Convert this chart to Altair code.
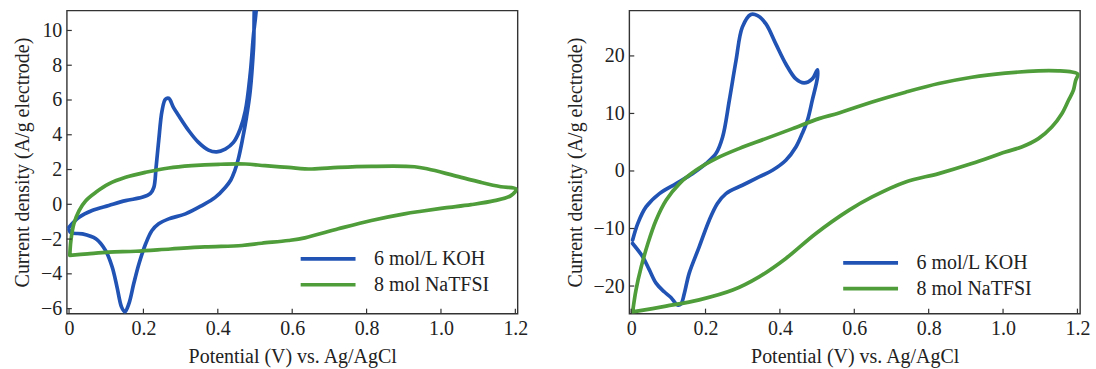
import altair as alt
import pandas as pd

FONT = "Liberation Serif, Times New Roman, serif"
SERIES = ["6 mol/L KOH", "8 mol NaTFSI"]
COLORS = ["#2153b4", "#4f9d3a"]

X_TICKS = [0.0, 0.2, 0.4, 0.6, 0.8, 1.0, 1.2]
L_Y_TICKS = [-6, -4, -2, 0, 2, 4, 6, 8, 10]
R_Y_TICKS = [-20, -10, 0, 10, 20]

# Left panel: 6 mol/L KOH
L_KOH_X = [0.0, 0.027, 0.062, 0.107, 0.152, 0.196, 0.219, 0.228, 0.234, 0.241, 0.250, 0.259, 0.268,
           0.281, 0.295, 0.322, 0.348, 0.375, 0.397, 0.42, 0.442, 0.46, 0.474, 0.487, 0.496, 0.502,
           0.507, 0.503, 0.496, 0.487, 0.477, 0.466, 0.455, 0.445, 0.435, 0.42, 0.393, 0.357, 0.313,
           0.268, 0.241, 0.223, 0.206, 0.188, 0.174, 0.161, 0.150, 0.141, 0.129, 0.116, 0.098, 0.072,
           0.036, 0.005, 0.0]
L_KOH_Y = [-1.32, -0.75, -0.36, -0.07, 0.21, 0.40, 0.63, 0.97, 2.12, 3.65, 5.37, 6.04, 6.1,
           5.56, 5.09, 4.23, 3.56, 3.12, 3.02, 3.18, 3.56, 4.32, 5.37, 7.48, 9.77, 10.9,
           12.5, 12.5, 9.0, 6.5, 5.0, 3.7, 2.6, 1.9, 1.4, 0.97, 0.40, -0.07, -0.55,
           -0.84, -1.12, -1.51, -2.27, -3.42, -4.56, -5.71, -6.19, -5.9, -4.76, -3.61, -2.65, -1.98,
           -1.70, -1.64, -1.45]

# Left panel: 8 mol NaTFSI
L_NA_X = [0.002, 0.005, 0.013, 0.027, 0.045, 0.072, 0.107, 0.152, 0.206, 0.268, 0.33, 0.402, 0.474,
          0.527, 0.59, 0.652, 0.724, 0.813, 0.929, 0.965, 1.036, 1.108, 1.161, 1.202, 1.188, 1.144,
          1.081, 1.01, 0.947, 0.902, 0.813, 0.724, 0.634, 0.59, 0.518, 0.465, 0.365, 0.273, 0.18,
          0.107, 0.05, 0.002]
L_NA_Y = [-2.94, -2.08, -1.12, -0.36, 0.21, 0.69, 1.17, 1.55, 1.84, 2.09, 2.22, 2.30, 2.32,
          2.22, 2.12, 2.03, 2.12, 2.18, 2.16, 2.03, 1.65, 1.26, 1.01, 0.88, 0.5, 0.21,
          -0.02, -0.21, -0.40, -0.55, -0.93, -1.41, -1.93, -2.08, -2.24, -2.37, -2.45, -2.57, -2.7,
          -2.75, -2.85, -2.94]

# Right panel: 6 mol/L KOH
R_KOH_X = [0.004, 0.018, 0.04, 0.076, 0.121, 0.165, 0.201, 0.228, 0.246, 0.264, 0.282, 0.299, 0.322,
           0.34, 0.362, 0.389, 0.416, 0.443, 0.465, 0.487, 0.501, 0.501, 0.487, 0.474, 0.46, 0.443,
           0.416, 0.38, 0.344, 0.299, 0.255, 0.232, 0.21, 0.183, 0.156, 0.143, 0.134, 0.125, 0.107,
           0.089, 0.067, 0.049, 0.031, 0.004]
R_KOH_Y = [-12.0, -9.1, -6.25, -3.93, -2.19, -0.46, 1.28, 3.02, 5.9, 12.27, 19.2, 25.0, 27.2,
           27.0, 25.6, 22.1, 18.6, 16.0, 15.3, 16.0, 17.6, 16.3, 12.27, 8.8, 6.5, 4.17,
           1.86, 0.12, -1.04, -2.48, -3.93, -5.66, -8.56, -13.2, -17.8, -21.3, -23.1, -23.3, -22.0,
           -21.0, -19.5, -17.2, -14.9, -12.6]

# Right panel: 8 mol NaTFSI
R_NA_X = [0.004, 0.013, 0.027, 0.045, 0.067, 0.094, 0.13, 0.174, 0.228, 0.29, 0.362, 0.434, 0.505,
          0.559, 0.648, 0.738, 0.827, 0.916, 1.006, 1.095, 1.149, 1.185, 1.201, 1.195, 1.189, 1.176,
          1.158, 1.131, 1.095, 1.05, 1.006, 0.916, 0.827, 0.738, 0.648, 0.586, 0.496, 0.416, 0.344,
          0.273, 0.183, 0.094, 0.004]
R_NA_Y = [-24.5, -20.7, -16.7, -12.6, -8.56, -5.09, -2.19, 0.12, 2.15, 3.89, 5.62, 7.36, 9.1,
          10.07, 12.0, 13.7, 15.2, 16.3, 17.0, 17.4, 17.4, 17.2, 16.8, 15.7, 14.0, 12.3,
          9.96, 7.64, 5.62, 4.17, 3.3, 1.28, -0.46, -1.9, -4.5, -6.8, -10.9, -15.2, -18.4,
          -20.7, -22.4, -23.5, -24.5]


def frame(series_list):
    rows = []
    for name, xs, ys in series_list:
        for i, (x, y) in enumerate(zip(xs, ys)):
            rows.append({"series": name, "i": i, "x": x, "y": y})
    return pd.DataFrame(rows)


W, H = 452, 304
XTITLE = "Potential (V) vs. Ag/AgCl"
YTITLE = "Current density (A/g electrode)"


def panel(df, xdom, ydom, yticks, lx, ly):
    xs = alt.Scale(domain=xdom, nice=False, zero=False)
    ys = alt.Scale(domain=ydom, nice=False, zero=False)
    xaxis = alt.Axis(values=X_TICKS, title=XTITLE,
                     labelExpr="datum.value == 0 ? '0' : format(datum.value, '.1f')")
    yaxis = alt.Axis(values=yticks, title=YTITLE)
    legend = alt.Legend(
        title=None, orient="none", legendX=lx, legendY=ly,
        symbolType="M-5,0L5,0", symbolSize=121, symbolStrokeWidth=3.7,
        labelFont=FONT, labelFontSize=20, labelColor="#222", labelOffset=36,
        rowPadding=6, padding=0,
    )
    lines = alt.Chart(df).mark_line(strokeWidth=3.7, clip=True, strokeJoin="round", strokeCap="round",
                                    interpolate="catmull-rom").encode(
        x=alt.X("x:Q", scale=xs, axis=xaxis),
        y=alt.Y("y:Q", scale=ys, axis=yaxis),
        color=alt.Color("series:N", scale=alt.Scale(domain=SERIES, range=COLORS), legend=legend),
        order="i:Q",
    )
    xt = alt.Chart(pd.DataFrame({"x": X_TICKS})).mark_rule(color="#333", strokeWidth=1.2).encode(
        x=alt.X("x:Q", scale=xs, axis=xaxis), y=alt.value(H), y2=alt.value(H - 5))
    yt = alt.Chart(pd.DataFrame({"y": yticks})).mark_rule(color="#333", strokeWidth=1.2).encode(
        y=alt.Y("y:Q", scale=ys, axis=yaxis), x=alt.value(0), x2=alt.value(5))
    return alt.layer(lines, xt, yt).properties(width=W, height=H)


left_df = frame([(SERIES[0], L_KOH_X, L_KOH_Y), (SERIES[1], L_NA_X, L_NA_Y)])
right_df = frame([(SERIES[0], R_KOH_X, R_KOH_Y), (SERIES[1], R_NA_X, R_NA_Y)])

left = panel(left_df, [-0.006, 1.206], [-6.29, 11.15], L_Y_TICKS, 252, 239)
right = panel(right_df, [-0.005, 1.207], [-24.8, 27.9], R_Y_TICKS, 232, 243)

chart = alt.hconcat(left, right, spacing=36).resolve_legend(color="independent").properties(
    padding={"left": 12, "top": 9, "right": 5, "bottom": 0},
    background="white",
).configure_view(stroke="#333", strokeWidth=1.4).configure_axis(
    grid=False, domain=False, ticks=False, labelPadding=5,
    labelFont=FONT, labelFontSize=20, labelColor="#222",
    titleFont=FONT, titleFontSize=20, titleFontWeight="normal", titleColor="#222",
    titlePadding=8,
).configure_legend(labelFont=FONT, labelFontSize=20)

chart.save("out.html", embed_options={"renderer": "svg", "actions": False})
